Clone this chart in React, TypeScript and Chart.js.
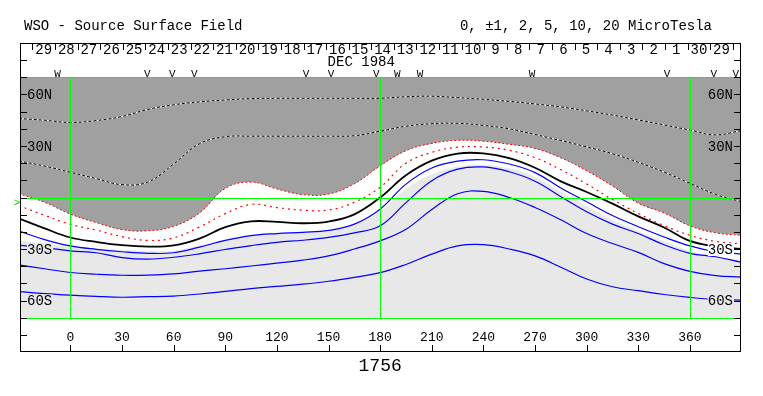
import React, { useEffect, useRef } from "react";
import { Chart, registerables } from "chart.js";

Chart.register(...registerables);

// Carrington longitude grid (degrees)
const lons = [-30, -15, 0, 15, 30, 45, 60, 75, 90, 105, 120, 135, 150, 165, 180, 195, 210, 225, 240, 255, 270, 285, 300, 315, 330, 345, 360, 375, 390];

// Contour latitudes (degrees)
const plus10 = [46.0, 45.0, 43.7, 44.8, 47.2, 51.3, 54.0, 55.7, 56.8, 57.6, 57.8, 57.8, 57.8, 57.8, 57.8, 58.7, 59.0, 58.2, 57.2, 56.0, 54.5, 52.8, 50.5, 48.0, 45.2, 42.3, 39.3, 36.5, 39.0];
const plus5 = [21.3, 18.3, 14.7, 11.0, 7.5, 9.0, 19.5, 31.3, 35.4, 35.7, 35.7, 35.7, 35.7, 36.0, 38.6, 41.5, 43.0, 43.2, 42.0, 40.0, 36.7, 33.2, 29.5, 25.5, 20.5, 14.8, 8.3, 1.8, -2.5];
const plus2 = [2.2, -2.8, -9.7, -14.6, -18.7, -19.4, -16.8, -9.0, 5.3, 9.0, 5.0, 1.7, 2.0, 8.0, 18.4, 27.3, 31.5, 33.3, 32.8, 31.0, 28.6, 23.1, 15.6, 6.7, -3.3, -9.0, -16.5, -20.6, -22.0];
const plus1 = [-4.7, -10.4, -15.6, -19.0, -22.8, -25.0, -23.5, -17.2, -9.4, -4.0, -5.9, -7.4, -7.3, -2.8, 6.0, 20.0, 26.3, 29.3, 29.4, 27.5, 23.2, 16.2, 7.9, -1.2, -9.3, -16.4, -22.0, -25.6, -27.0];
const neutral = [-12.2, -18.0, -23.3, -25.9, -27.8, -28.6, -27.9, -23.9, -17.3, -13.9, -14.2, -15.0, -14.0, -9.8, 0, 13.0, 21.5, 25.6, 25.7, 22.9, 17.3, 9.4, 3.2, -3.6, -11.0, -17.5, -25.3, -28.5, -30.0];
const minus1 = [-19.5, -24.5, -28.2, -30.2, -31.6, -32.5, -32.2, -28.9, -25.0, -22.2, -21.0, -20.3, -19.2, -15.5, -6.8, 7.8, 17.2, 21.2, 22.0, 19.5, 14.5, 5.5, -2.5, -10.5, -17.0, -23.0, -28.2, -31.6, -33.0];
const minus2 = [-27.8, -29.2, -31.1, -32.2, -35.0, -35.9, -34.8, -32.8, -30.3, -28.0, -26.1, -24.9, -23.2, -20.6, -16.5, -3.0, 9.8, 16.5, 17.8, 15.0, 9.5, 0.5, -8.3, -15.5, -21.0, -27.5, -32.5, -34.5, -37.7];
const minus5 = [-39.3, -41.5, -43.7, -44.7, -45.3, -45.2, -44.5, -42.9, -41.5, -39.9, -38.2, -36.5, -34.0, -30.0, -25.3, -18.5, -7.0, 2.2, 3.6, 0.0, -5.8, -13.0, -21.0, -26.8, -32.0, -38.5, -43.0, -45.5, -46.4];
const minus10 = [-54.8, -56.0, -56.9, -57.6, -58.1, -57.8, -57.4, -56.2, -54.7, -53.1, -51.8, -50.5, -48.8, -46.5, -43.8, -39.0, -33.0, -28.2, -27.5, -30.0, -34.0, -40.6, -47.5, -52.0, -54.3, -56.5, -58.2, -59.4, -59.8];
const shadeEdge = [-25.0, -27.0, -28.5, -29.5, -30.5, -31.2, -31.0, -28.0, -24.5, -22.0, -21.0, -20.5, -19.5, -16.0, -8.0, 5.0, 13.5, 18.0, 19.0, 17.0, 12.0, 3.5, -5.0, -13.0, -19.5, -25.5, -31.0, -34.5, -37.5];

// Axis ticks and labels
const xTicks = [0, 30, 60, 90, 120, 150, 180, 210, 240, 270, 300, 330, 360];
const latTicks = [-80, -70, -60, -50, -40, -30, -20, -10, 0, 10, 20, 30, 40, 50, 60, 70, 80];
const latLabelValues = [60, 30, -30, -60];
const latLabelTexts = ["60N", "30N", "30S", "60S"];
const greenLons = [0, 180, 360];
const greenLats = [70, 0, -70];
const dayLabels = ["29", "28", "27", "26", "25", "24", "23", "22", "21", "20", "19", "18", "17", "16", "15", "14", "13", "12", "11", "10", "9", "8", "7", "6", "5", "4", "3", "2", "1", "30", "29"];
const dayStartLon = -22.1;
const dayStepLon = 13.13;
const monthLabel = "DEC 1984";
const monthLabelLon = 169;
const markerLons = [-7.5, 44.7, 59.2, 72.0, 137.0, 151.5, 177.7, 189.9, 203.2, 268.3, 346.7, 373.9, 386.7];
const markerKinds = ["W", "V", "V", "V", "V", "V", "V", "W", "W", "W", "V", "V", "V"];
const rotationLabel = "1756";
const titleText = "WSO - Source Surface Field";
const levelText = "0, \u00B11, 2, 5, 10, 20 MicroTesla";

const FONT = '"Liberation Mono", "DejaVu Sans Mono", monospace';
const DARK = "#a0a0a0";
const LIGHT = "#e8e8e8";

function interp(arr: number[], lon: number): number {
  for (let i = 0; i < lons.length - 1; i++) {
    if (lon >= lons[i] && lon <= lons[i + 1]) {
      const t = (lon - lons[i]) / (lons[i + 1] - lons[i]);
      return arr[i] + t * (arr[i + 1] - arr[i]);
    }
  }
  return lon < lons[0] ? arr[0] : arr[arr.length - 1];
}

const overlay = {
  id: "wsoOverlay",
  afterDatasetsDraw(chart: any) {
    const { ctx, chartArea: a } = chart;
    const xs = chart.scales.x;
    const ys = chart.scales.y;
    const px = (v: number) => Math.round(xs.getPixelForValue(v)) + 0.5;
    const py = (v: number) => Math.round(ys.getPixelForValue(v)) + 0.5;
    ctx.save();

    // green reference lines
    ctx.strokeStyle = "#00ff00";
    ctx.lineWidth = 1;
    ctx.beginPath();
    for (const lat of greenLats) {
      ctx.moveTo(a.left, py(lat));
      ctx.lineTo(a.right, py(lat));
    }
    for (const lon of greenLons) {
      ctx.moveTo(px(lon), py(70));
      ctx.lineTo(px(lon), py(-70));
    }
    ctx.stroke();

    // latitude labels (with region-coloured backing)
    ctx.font = `14px ${FONT}`;
    ctx.textBaseline = "middle";
    latLabelValues.forEach((lat, i) => {
      const txt = latLabelTexts[i];
      const w = ctx.measureText(txt).width;
      const yy = ys.getPixelForValue(lat);
      const sides = [
        { x0: a.left + 7, lon: xs.getValueForPixel(a.left + 20) },
        { x0: a.right - 8 - w, lon: xs.getValueForPixel(a.right - 20) },
      ];
      for (const s of sides) {
        let bg = "#ffffff";
        if (lat > interp(plus2, s.lon)) bg = DARK;
        else if (lat < interp(shadeEdge, s.lon)) bg = LIGHT;
        ctx.fillStyle = bg;
        ctx.fillRect(s.x0, yy - 6, w + 1, 13);
        ctx.fillStyle = "#000";
        ctx.textAlign = "left";
        ctx.fillText(txt, s.x0, yy + 1);
      }
    });

    // latitude ticks, both sides
    ctx.strokeStyle = "#000";
    ctx.beginPath();
    for (const lat of latTicks) {
      ctx.moveTo(a.left, py(lat));
      ctx.lineTo(a.left + 7, py(lat));
      ctx.moveTo(a.right - 7, py(lat));
      ctx.lineTo(a.right, py(lat));
    }
    // longitude ticks at bottom
    for (const lon of xTicks) {
      ctx.moveTo(px(lon), a.bottom);
      ctx.lineTo(px(lon), a.bottom - 7);
    }
    // day separators at top
    for (let k = 0; k <= dayLabels.length; k++) {
      const x = px(dayStartLon + k * dayStepLon);
      ctx.moveTo(x, a.top + 1);
      ctx.lineTo(x, a.top + 7);
    }
    ctx.stroke();

    // frame
    ctx.strokeRect(a.left + 0.5, a.top + 0.5, a.right - a.left - 1, a.bottom - a.top - 1);

    // longitude labels
    ctx.fillStyle = "#000";
    ctx.font = `13px ${FONT}`;
    ctx.textAlign = "center";
    ctx.textBaseline = "middle";
    for (const lon of xTicks) {
      ctx.fillText(String(lon), xs.getPixelForValue(lon), ys.getPixelForValue(-81) + 1);
    }

    // day numbers
    ctx.font = `14px ${FONT}`;
    dayLabels.forEach((d, k) => {
      const lon = dayStartLon + (k + 0.5) * dayStepLon;
      ctx.fillText(d, xs.getPixelForValue(lon), a.top + 7);
    });
    ctx.fillText(monthLabel, xs.getPixelForValue(monthLabelLon), a.top + 19);

    // observation markers
    ctx.font = `11px ${FONT}`;
    markerLons.forEach((lon, i) => {
      ctx.fillText(markerKinds[i], xs.getPixelForValue(lon), a.top + 31);
    });

    // equator pointer
    ctx.fillStyle = "#00dd00";
    ctx.font = `11px ${FONT}`;
    ctx.fillText(">", a.left - 3, ys.getPixelForValue(-3));

    // titles
    ctx.fillStyle = "#000";
    ctx.font = `14px ${FONT}`;
    ctx.textAlign = "left";
    ctx.fillText(titleText, a.left + 4, a.top - 17);
    ctx.textAlign = "right";
    ctx.fillText(levelText, a.right - 29, a.top - 17);

    // rotation number
    ctx.textAlign = "center";
    ctx.font = `18px ${FONT}`;
    ctx.fillText(rotationLabel, xs.getPixelForValue(180), a.bottom + 14);

    ctx.restore();
  },
};

export default function App() {
  const ref = useRef<HTMLCanvasElement>(null);
  useEffect(() => {
    const pts = (arr: number[]) => lons.map((x, i) => ({ x, y: arr[i] }));
    const blue = (arr: number[], label: string) => ({
      label, data: pts(arr), borderColor: "#0000ff", borderWidth: 1.2, fill: false, order: 1,
    });
    const chart = new Chart(ref.current as HTMLCanvasElement, {
      type: "line",
      data: {
        datasets: [
          { label: "shade", data: pts(shadeEdge), borderWidth: 0, borderColor: "rgba(0,0,0,0)", backgroundColor: LIGHT, fill: { value: -70 }, order: 10 },
          { label: "+2", data: pts(plus2), borderColor: "#ff0000", borderWidth: 1, borderDash: [2, 2], backgroundColor: DARK, fill: { value: 70 }, order: 1 },
          { label: "+10", data: pts(plus10), borderColor: "#000000", borderWidth: 1, borderDash: [3, 2], fill: false, order: 2 },
          { label: "+10w", data: pts(plus10), borderColor: "#ffffff", borderWidth: 1, fill: false, order: 3 },
          { label: "+5", data: pts(plus5), borderColor: "#000000", borderWidth: 1, borderDash: [3, 2], fill: false, order: 2 },
          { label: "+5w", data: pts(plus5), borderColor: "#ffffff", borderWidth: 1, fill: false, order: 3 },
          { label: "+1", data: pts(plus1), borderColor: "#ff0000", borderWidth: 1.2, borderDash: [2, 4], fill: false, order: 1 },
          { label: "0", data: pts(neutral), borderColor: "#000000", borderWidth: 1.8, fill: false, order: 1 },
          blue(minus1, "-1"),
          blue(minus2, "-2"),
          blue(minus5, "-5"),
          blue(minus10, "-10"),
        ] as any,
      },
      options: {
        animation: false,
        responsive: false,
        devicePixelRatio: 1,
        events: [],
        layout: { padding: { left: 20, right: 22, top: 43, bottom: 44 } },
        scales: {
          x: { type: "linear", min: -29.3, max: 389.7, display: false },
          y: { type: "linear", min: -90, max: 90, display: false },
        },
        elements: { point: { radius: 0 }, line: { tension: 0.4 } },
        plugins: {
          legend: { display: false },
          tooltip: { enabled: false },
          filler: { drawTime: "beforeDatasetsDraw", propagate: false },
        } as any,
      },
      plugins: [overlay],
    });
    return () => chart.destroy();
  }, []);
  return (
    <div style={{ position: "fixed", left: 0, top: 0, width: 763, height: 396, background: "#fff" }}>
      <canvas ref={ref} width={763} height={396} style={{ width: 763, height: 396, display: "block" }} />
    </div>
  );
}
